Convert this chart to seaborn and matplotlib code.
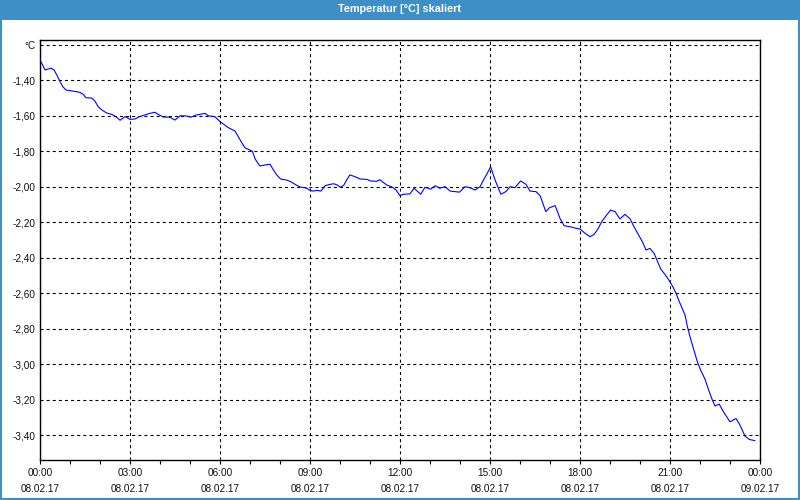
import matplotlib
matplotlib.use("Agg")
import matplotlib.pyplot as plt
from matplotlib.patches import Rectangle
import seaborn as sns
import pandas as pd

# ---- data -------------------------------------------------------------
hours = [0.00, 0.06, 0.17, 0.24, 0.36, 0.47, 0.56, 0.67, 0.76, 0.87, 1.06, 1.33, 1.44, 1.53,
         1.72, 1.83, 1.94, 2.06, 2.22, 2.39, 2.53, 2.67, 2.83, 2.94, 3.00, 3.17, 3.31, 3.50,
         3.67, 3.83, 3.94, 4.11, 4.33, 4.50, 4.67, 4.89, 5.02, 5.20, 5.33, 5.50, 5.61, 5.83,
         6.00, 6.11, 6.28, 6.50, 6.61, 6.72, 6.83, 7.00, 7.08, 7.17, 7.33, 7.50, 7.67, 7.78,
         7.89, 8.02, 8.22, 8.36, 8.50, 8.67, 8.83, 8.91, 9.00, 9.11, 9.24, 9.37, 9.50, 9.67,
         9.80, 9.91, 10.02, 10.13, 10.22, 10.33, 10.50, 10.67, 10.89, 11.02, 11.22, 11.33,
         11.44, 11.56, 11.72, 11.87, 12.00, 12.11, 12.33, 12.47, 12.58, 12.69, 12.83, 12.94,
         13.02, 13.17, 13.33, 13.50, 13.67, 13.98, 14.17, 14.33, 14.50, 14.67, 14.78, 14.89,
         15.02, 15.17, 15.36, 15.53, 15.67, 15.83, 16.02, 16.20, 16.33, 16.53, 16.67, 16.76,
         16.86, 16.98, 17.17, 17.24, 17.33, 17.47, 17.67, 17.83, 18.00, 18.17, 18.33, 18.47,
         18.61, 18.72, 18.87, 19.02, 19.17, 19.33, 19.50, 19.67, 19.80, 19.94, 20.08, 20.20,
         20.33, 20.47, 20.58, 20.69, 20.83, 20.98, 21.11, 21.20, 21.31, 21.42, 21.50, 21.58,
         21.69, 21.80, 21.91, 22.02, 22.17, 22.28, 22.39, 22.50, 22.64, 22.78, 23.00, 23.20,
         23.33, 23.50, 23.64, 23.83]
temperature = [-1.286, -1.305, -1.342, -1.338, -1.332, -1.342, -1.370, -1.408, -1.436, -1.455,
               -1.460, -1.468, -1.479, -1.498, -1.500, -1.517, -1.549, -1.567, -1.584, -1.592,
               -1.605, -1.625, -1.605, -1.614, -1.620, -1.618, -1.605, -1.595, -1.586, -1.580,
               -1.592, -1.607, -1.608, -1.624, -1.600, -1.601, -1.608, -1.596, -1.592, -1.586,
               -1.600, -1.605, -1.633, -1.646, -1.667, -1.686, -1.718, -1.750, -1.780, -1.793,
               -1.800, -1.843, -1.883, -1.877, -1.873, -1.905, -1.933, -1.956, -1.962, -1.971,
               -1.986, -2.001, -2.005, -2.010, -2.020, -2.024, -2.020, -2.024, -1.994, -1.986,
               -1.983, -1.990, -2.003, -1.990, -1.962, -1.933, -1.943, -1.956, -1.958, -1.967,
               -1.969, -1.960, -1.975, -1.990, -2.000, -2.018, -2.050, -2.042, -2.040, -2.008,
               -2.025, -2.042, -2.003, -2.008, -2.014, -1.994, -2.008, -1.999, -2.024, -2.030,
               -1.999, -2.005, -2.018, -1.999, -1.962, -1.930, -1.887, -1.962, -2.042, -2.027,
               -1.999, -2.005, -1.967, -1.986, -2.024, -2.027, -2.050, -2.093, -2.140, -2.118,
               -2.106, -2.136, -2.177, -2.219, -2.225, -2.232, -2.238, -2.262, -2.281, -2.268,
               -2.234, -2.197, -2.163, -2.131, -2.140, -2.181, -2.155, -2.181, -2.225, -2.268,
               -2.310, -2.356, -2.347, -2.375, -2.419, -2.463, -2.493, -2.530, -2.568, -2.600,
               -2.647, -2.690, -2.722, -2.788, -2.859, -2.923, -2.985, -3.032, -3.085, -3.141,
               -3.192, -3.235, -3.224, -3.267, -3.324, -3.305, -3.342, -3.404, -3.423, -3.430]

x_ticks = [0, 3, 6, 9, 12, 15, 18, 21, 24]
x_tick_labels = ["00:00\n08.02.17", "03:00\n08.02.17", "06:00\n08.02.17", "09:00\n08.02.17",
                 "12:00\n08.02.17", "15:00\n08.02.17", "18:00\n08.02.17", "21:00\n08.02.17",
                 "00:00\n09.02.17"]
y_ticks = [-1.2, -1.4, -1.6, -1.8, -2.0, -2.2, -2.4, -2.6, -2.8, -3.0, -3.2, -3.4]
y_tick_labels = ["°C", "-1,40", "-1,60", "-1,80", "-2,00", "-2,20", "-2,40", "-2,60",
                 "-2,80", "-3,00", "-3,20", "-3,40"]
title = "Temperatur [°C] skaliert"

# ---- style ------------------------------------------------------------
sns.set_style("white")
plt.rcParams['font.family'] = ['Liberation Sans', 'DejaVu Sans']
plt.rcParams['lines.scale_dashes'] = False

BAR_BLUE = "#3d8fc6"

fig = plt.figure(figsize=(8, 5), dpi=100, facecolor="white")
ax = fig.add_axes([0.05, 0.08, 0.90, 0.84])

df = pd.DataFrame({"h": hours, "t": temperature})
sns.lineplot(data=df, x="h", y="t", ax=ax, color="#0000ff", linewidth=0.8, zorder=3)

ax.set_xlim(0, 24)
ax.set_ylim(-3.539, -1.173)
ax.set_xticks(x_ticks)
ax.set_xticklabels(x_tick_labels, fontsize=7.2, color="#111111", linespacing=1.7)
ax.set_xticks(range(0, 25), minor=True)
ax.set_yticks(y_ticks)
ax.set_yticklabels(y_tick_labels, fontsize=7.2, color="#111111")
ax.set_xlabel("")
ax.set_ylabel("")

ax.tick_params(axis="x", which="both", direction="out", length=3, width=0.8,
               color="black", pad=3, bottom=True)
ax.tick_params(axis="y", which="both", length=0, pad=3)

ax.grid(True, which="major", color="black", linestyle=(0, (2.2, 2.2)), linewidth=0.8)
ax.grid(False, which="minor")
for s in ax.spines.values():
    s.set_visible(True)
    s.set_color("black")
    s.set_linewidth(1.0)

# title bar and frame
fig.patches.append(Rectangle((0, 0.96), 1, 0.04, transform=fig.transFigure,
                             facecolor=BAR_BLUE, edgecolor="none", zorder=0))
fig.patches.append(Rectangle((0.0012, 0.002), 0.9976, 0.996, transform=fig.transFigure,
                             facecolor="none", edgecolor=BAR_BLUE, linewidth=1.5, zorder=5))
fig.text(0.5, 0.981, title, ha="center", va="center", color="white",
         fontsize=7.8, fontweight="bold")

fig.savefig("out.png", dpi=100, facecolor="white")
